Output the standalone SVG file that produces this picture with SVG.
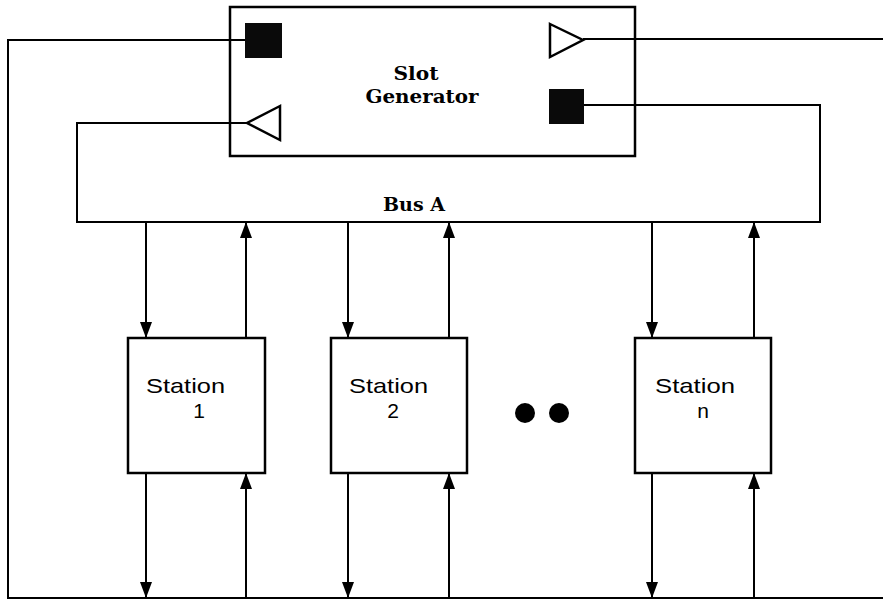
<svg xmlns="http://www.w3.org/2000/svg" width="883" height="603" viewBox="0 0 883 603">
<style>
.box{fill:#fff;stroke:#000;stroke-width:2.5}
.frame{fill:none;stroke:#000;stroke-width:2.5}
.ln{fill:none;stroke:#000;stroke-width:2}
.arr{fill:none;stroke:#000;stroke-width:2;marker-end:url(#ah)}
.tri{fill:#fff;stroke:#000;stroke-width:2.5;stroke-linejoin:miter}
.sq{fill:#0a0a0a}
.bold{font-family:"DejaVu Serif","Liberation Serif",serif;font-weight:bold;font-size:18px;fill:#000}
.st{font-family:"Liberation Sans",Arial,sans-serif;font-size:21px;fill:#000}
</style>
<defs>
<marker id="ah" viewBox="0 0 16 12" refX="16" refY="6" markerWidth="16" markerHeight="12" markerUnits="userSpaceOnUse" orient="auto">
<path d="M0,0 L16,6 L0,12 z" fill="#000"/>
</marker>
</defs>
<rect width="883" height="603" fill="#fff"/>
<g id="slot-generator">
<rect class="frame" x="230" y="7" width="405" height="149"/>
<rect class="sq" x="245" y="23" width="37" height="35"/>
<rect class="sq" x="549" y="89" width="35" height="35"/>
<polygon class="tri" points="550,24 583,40 550,57"/>
<polygon class="tri" points="280,106 247,123 280,140"/>
<text class="bold" x="416" y="80" text-anchor="middle" textLength="45" lengthAdjust="spacingAndGlyphs">Slot</text>
<text class="bold" x="422" y="103" text-anchor="middle" textLength="113" lengthAdjust="spacingAndGlyphs">Generator</text>
</g>
<g id="connectors">
<polyline class="ln" points="245,40 8,40 8,598 883,598"/>
<line class="ln" x1="583" y1="39" x2="883" y2="39"/>
<polyline class="ln" points="584,105 820,105 820,222 77,222 77,123 247,123"/>
<line class="arr" x1="146" y1="222" x2="146" y2="338"/>
<line class="arr" x1="246" y1="338" x2="246" y2="222"/>
<line class="arr" x1="348" y1="222" x2="348" y2="338"/>
<line class="arr" x1="449" y1="338" x2="449" y2="222"/>
<line class="arr" x1="652" y1="222" x2="652" y2="338"/>
<line class="arr" x1="754" y1="338" x2="754" y2="222"/>
<line class="arr" x1="146" y1="473" x2="146" y2="598"/>
<line class="arr" x1="246" y1="598" x2="246" y2="473"/>
<line class="arr" x1="348" y1="473" x2="348" y2="598"/>
<line class="arr" x1="449" y1="598" x2="449" y2="473"/>
<line class="arr" x1="652" y1="473" x2="652" y2="598"/>
<line class="arr" x1="754" y1="598" x2="754" y2="473"/>
</g>
<g id="bus-a">
<text class="bold" x="414" y="211" text-anchor="middle" textLength="62" lengthAdjust="spacingAndGlyphs">Bus A</text>
</g>
<g id="station-1">
<rect class="box" x="128" y="338" width="137" height="135"/>
<text class="st" x="146" y="393" textLength="79" lengthAdjust="spacingAndGlyphs">Station</text>
<text class="st" x="199" y="418" text-anchor="middle">1</text>
</g>
<g id="station-2">
<rect class="box" x="331" y="338" width="136" height="135"/>
<text class="st" x="349" y="393" textLength="79" lengthAdjust="spacingAndGlyphs">Station</text>
<text class="st" x="393" y="418" text-anchor="middle">2</text>
</g>
<g id="station-n">
<rect class="box" x="635" y="338" width="136" height="135"/>
<text class="st" x="655" y="393" textLength="80" lengthAdjust="spacingAndGlyphs">Station</text>
<text class="st" x="703" y="418" text-anchor="middle">n</text>
</g>
<g id="ellipsis">
<ellipse cx="525" cy="413" rx="10" ry="10"/>
<ellipse cx="559" cy="413" rx="10" ry="10"/>
</g>
</svg>
